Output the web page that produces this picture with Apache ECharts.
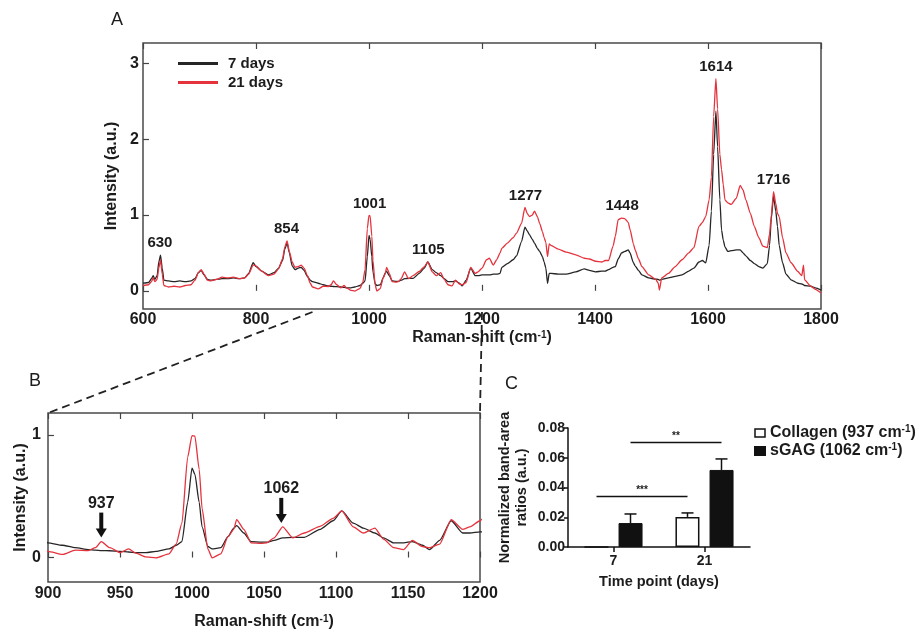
<!DOCTYPE html>
<html>
<head>
<meta charset="utf-8">
<script src="https://cdn.jsdelivr.net/npm/echarts@6/dist/echarts.min.js"></script>
<style>
  html, body { margin: 0; padding: 0; background: #fff; }
  #chart { width: 923px; height: 631px; }
</style>
</head>
<body>
<div id="chart"></div>
<script>
// Raman spectra (mean, normalized) at two culture time points
const ramanShift = [
  600, 610, 615, 618, 621, 625, 628, 631, 634, 637, 645, 655, 665, 675, 685, 692, 698, 703, 708, 714,
  720, 730, 740, 750, 760, 770, 780, 787, 795, 800, 810, 822, 832, 840, 847, 851, 855, 859, 864, 869,
  875, 880, 885, 891, 896, 900, 910, 919, 928, 933, 937, 943, 950, 956, 961, 968, 975, 984, 989, 993,
  997, 1000, 1002, 1005, 1007, 1011, 1014, 1020, 1025, 1029, 1031, 1036, 1041, 1048, 1052, 1057, 1063, 1070, 1078, 1089,
  1098, 1104, 1112, 1119, 1127, 1133, 1140, 1147, 1153, 1160, 1165, 1172, 1180, 1188, 1193, 1200, 1208, 1213, 1220, 1226,
  1232, 1235, 1245, 1255, 1261, 1270, 1276, 1280, 1284, 1289, 1293, 1298, 1302, 1307, 1310, 1313, 1316, 1319, 1322, 1335,
  1349, 1366, 1381, 1390, 1401, 1412, 1418, 1424, 1432, 1436, 1441, 1447, 1453, 1459, 1462, 1468, 1471, 1477, 1483, 1495,
  1507, 1512, 1514, 1518, 1530, 1542, 1554, 1566, 1575, 1584, 1590, 1596, 1602, 1606, 1610, 1614, 1617, 1621, 1624, 1627,
  1630, 1635, 1641, 1650, 1657, 1662, 1667, 1675, 1682, 1690, 1697, 1705, 1709, 1712, 1716, 1720, 1723, 1726, 1732, 1738,
  1747, 1759, 1766, 1769, 1771, 1782, 1790, 1800
];
const intensity7d = [
  0.10, 0.11, 0.16, 0.20, 0.15, 0.20, 0.38, 0.47, 0.30, 0.14, 0.13, 0.12, 0.13, 0.12, 0.13, 0.16, 0.24, 0.27, 0.21, 0.15,
  0.14, 0.15, 0.16, 0.16, 0.17, 0.16, 0.17, 0.23, 0.37, 0.32, 0.26, 0.21, 0.24, 0.30, 0.40, 0.55, 0.63, 0.50, 0.33, 0.28,
  0.30, 0.31, 0.27, 0.19, 0.14, 0.12, 0.10, 0.08, 0.065, 0.06, 0.057, 0.055, 0.05, 0.045, 0.04, 0.04, 0.05, 0.07, 0.10, 0.13,
  0.45, 0.73, 0.68, 0.45, 0.25, 0.09, 0.07, 0.08, 0.17, 0.24, 0.26, 0.20, 0.13, 0.125, 0.125, 0.14, 0.16, 0.165, 0.165, 0.23,
  0.30, 0.38, 0.28, 0.24, 0.20, 0.16, 0.12, 0.12, 0.13, 0.10, 0.065, 0.14, 0.30, 0.20, 0.20, 0.21, 0.21, 0.21, 0.22, 0.22,
  0.23, 0.31, 0.36, 0.41, 0.46, 0.65, 0.84, 0.79, 0.74, 0.68, 0.63, 0.56, 0.52, 0.45, 0.38, 0.30, 0.10, 0.23, 0.23, 0.22,
  0.22, 0.25, 0.29, 0.27, 0.25, 0.26, 0.26, 0.28, 0.31, 0.32, 0.42, 0.50, 0.52, 0.54, 0.50, 0.37, 0.33, 0.27, 0.21, 0.17,
  0.155, 0.15, 0.14, 0.15, 0.17, 0.19, 0.21, 0.26, 0.30, 0.38, 0.40, 0.37, 0.60, 1.05, 1.80, 2.37, 1.90, 1.20, 0.80, 0.67,
  0.58, 0.52, 0.53, 0.54, 0.54, 0.50, 0.46, 0.40, 0.36, 0.32, 0.30, 0.36, 0.60, 0.95, 1.25, 1.05, 0.85, 0.60, 0.37, 0.22,
  0.145, 0.10, 0.09, 0.08, 0.07, 0.06, 0.04, 0.01
];
const intensity21d = [
  0.07, 0.08, 0.12, 0.17, 0.12, 0.15, 0.30, 0.41, 0.22, 0.07, 0.05, 0.06, 0.05, 0.07, 0.08, 0.14, 0.24, 0.28, 0.22, 0.14,
  0.13, 0.15, 0.18, 0.17, 0.18, 0.16, 0.17, 0.22, 0.34, 0.33, 0.26, 0.20, 0.22, 0.29, 0.42, 0.58, 0.66, 0.52, 0.38, 0.31,
  0.32, 0.34, 0.30, 0.20, 0.10, 0.05, 0.025, 0.06, 0.057, 0.08, 0.13, 0.08, 0.04, 0.07, 0.035, 0.005, -0.003, 0.03, 0.11, 0.28,
  0.82, 0.995, 0.99, 0.72, 0.40, 0.07, -0.003, 0.03, 0.17, 0.23, 0.31, 0.23, 0.12, 0.115, 0.12, 0.16, 0.25, 0.16, 0.20, 0.255,
  0.32, 0.38, 0.25, 0.20, 0.24, 0.15, 0.08, 0.065, 0.14, 0.09, 0.08, 0.11, 0.31, 0.23, 0.25, 0.30, 0.41, 0.43, 0.34, 0.41,
  0.50, 0.56, 0.63, 0.70, 0.76, 0.89, 1.10, 1.02, 0.98, 1.00, 1.05, 0.98, 0.89, 0.78, 0.70, 0.64, 0.45, 0.62, 0.60, 0.55,
  0.51, 0.475, 0.43, 0.42, 0.39, 0.38, 0.40, 0.40, 0.59, 0.72, 0.94, 0.96, 0.95, 0.90, 0.81, 0.62, 0.54, 0.42, 0.32, 0.21,
  0.155, 0.10, 0.01, 0.17, 0.23, 0.32, 0.41, 0.50, 0.57, 0.85, 0.90, 0.98, 1.20, 1.50, 2.30, 2.80, 2.40, 1.80, 1.60, 1.40,
  1.20, 1.16, 1.14, 1.22, 1.39, 1.33, 1.20, 1.02, 0.85, 0.70, 0.59, 0.57, 0.75, 1.00, 1.31, 1.15, 1.02, 0.98, 0.70, 0.50,
  0.37, 0.255, 0.20, 0.34, 0.145, 0.06, 0.02, -0.03
];

// Annotated bands
const peaksA = [630, 854, 1001, 1105, 1277, 1448, 1614, 1716];
const peaksB = [937, 1062];

// Tick values of the intensity axes
const yTicksA = [0, 1, 2, 3];
const yTicksB = [0, 1];

// Band-area ratios (mean and SD)
const timePoints = ['7', '21'];
const yTicksC = [0, 0.02, 0.04, 0.06, 0.08];
const collagenMean = [0, 0.0202];
const collagenSd = [0, 0.0027];
const sgagMean = [0.0161, 0.0518];
const sgagSd = [0.0061, 0.0074];
const significance = [
  { group: 'collagen', text: '***' },
  { group: 'sgag', text: '**' }
];

const FONT = 'Liberation Sans, Arial, Helvetica, sans-serif';
const INK = '#1c1c1c';
const BLACK_LINE = '#262626';
const RED_LINE = '#e5333d';
const BAR_W = 24;
const BAR_SHIFT = 17;

const pair = (ys) => ramanShift.map((x, i) => [x, ys[i]]);
function peakValue(w, win) {
  let m = -Infinity;
  ramanShift.forEach((x, i) => {
    if (Math.abs(x - w) <= win) m = Math.max(m, intensity7d[i], intensity21d[i]);
  });
  return m;
}
function redValue(w, win) {
  let m = -Infinity;
  ramanShift.forEach((x, i) => {
    if (Math.abs(x - w) <= win) m = Math.max(m, intensity21d[i]);
  });
  return m;
}

const tickLabel = (size) => ({ fontFamily: FONT, fontWeight: 'bold', fontSize: size, color: INK });
const supRich = (size) => ({
  sup: { fontFamily: FONT, fontWeight: 'bold', fontSize: size, color: INK, verticalAlign: 'top' }
});

const chart = echarts.init(document.getElementById('chart'), null, { renderer: 'canvas' });

const spectrumX = (grid, min, max, interval, gap, margin) => ([
  {
    type: 'value', gridIndex: grid, min, max, interval, position: 'bottom',
    axisLine: { show: false },
    axisTick: { show: true, inside: true, length: 6, lineStyle: { color: '#444', width: 1.2 } },
    splitLine: { show: false },
    axisLabel: Object.assign({ margin, showMinLabel: true, showMaxLabel: true, formatter: (v) => String(v) }, tickLabel(16)),
    name: 'Raman-shift (cm{sup|-1})', nameLocation: 'middle', nameGap: gap,
    nameTextStyle: { fontFamily: FONT, fontWeight: 'bold', fontSize: 16, color: INK, rich: supRich(10) }
  },
  {
    type: 'value', gridIndex: grid, min, max, interval, position: 'top',
    axisLine: { show: false },
    axisTick: { show: true, inside: true, length: 6, lineStyle: { color: '#444', width: 1.2 } },
    axisLabel: { show: false }, splitLine: { show: false }
  }
]);

const spectrumY = (grid, min, max, ticks, gap, margin) => ({
  type: 'value', gridIndex: grid, min, max,
  axisLine: { show: false },
  axisTick: { show: true, inside: true, length: 6, customValues: ticks, lineStyle: { color: '#444', width: 1.2 } },
  axisLabel: Object.assign({ margin, customValues: ticks, formatter: (v) => String(v) }, tickLabel(16)),
  splitLine: { show: false },
  name: 'Intensity (a.u.)', nameLocation: 'middle', nameGap: gap, nameRotate: 90,
  nameTextStyle: { fontFamily: FONT, fontWeight: 'bold', fontSize: 16, color: INK }
});

const lineSeries = (name, ys, color, xi, yi, extra) => Object.assign({
  type: 'line', name, data: pair(ys), xAxisIndex: xi, yAxisIndex: yi,
  showSymbol: false, symbol: 'none', clip: true, animation: false,
  smooth: 0.2, smoothMonotone: 'x',
  lineStyle: { color, width: 1.3 }, itemStyle: { color }
}, extra || {});

const option = {
  backgroundColor: '#fff',
  animation: false,
  grid: [
    { left: 143, top: 43, width: 678, height: 266, show: true, borderColor: '#4a4a4a', borderWidth: 1.5, containLabel: false, outerBoundsMode: 'none' },
    { left: 48, top: 413, width: 432, height: 169, show: true, borderColor: '#4a4a4a', borderWidth: 1.5, containLabel: false, outerBoundsMode: 'none' },
    { left: 568, top: 428, width: 182, height: 119, containLabel: false, outerBoundsMode: 'none' }
  ],
  legend: [
    {
      data: ['7 days', '21 days'], orient: 'vertical', left: 178, top: 55, padding: 0,
      icon: 'rect', itemWidth: 40, itemHeight: 3, itemGap: 2, selectedMode: false,
      textStyle: { fontFamily: FONT, fontWeight: 'bold', fontSize: 15, color: INK, lineHeight: 17, padding: [0, 0, 0, 5] }
    },
    {
      data: [
        { name: 'Collagen (937 cm-1)', itemStyle: { color: '#fff', borderColor: '#111', borderWidth: 1.5 } },
        { name: 'sGAG (1062 cm-1)', itemStyle: { color: '#111' } }
      ],
      orient: 'vertical', left: 754, top: 424, padding: 0, icon: 'rect', itemWidth: 10, itemHeight: 8, itemGap: 0,
      selectedMode: false,
      formatter: (n) => n.replace('cm-1)', 'cm{sup|-1})'),
      textStyle: { fontFamily: FONT, fontWeight: 'bold', fontSize: 16, color: INK, lineHeight: 18, rich: supRich(10) }
    }
  ],
  xAxis: [
    ...spectrumX(0, 600, 1800, 200, 21, 3),
    ...spectrumX(1, 900, 1200, 50, 32, 4),
    {
      type: 'category', gridIndex: 2, data: timePoints, boundaryGap: true,
      axisLine: { show: true, lineStyle: { color: '#111', width: 1.5 } },
      axisTick: { show: true, alignWithLabel: true, length: 5, lineStyle: { color: '#111', width: 1.5 } },
      axisLabel: Object.assign({ margin: 7 }, tickLabel(14)),
      name: 'Time point (days)', nameLocation: 'middle', nameGap: 27,
      nameTextStyle: { fontFamily: FONT, fontWeight: 'bold', fontSize: 14.5, color: INK }
    }
  ],
  yAxis: [
    spectrumY(0, -0.24, 3.27, yTicksA, 19, 4),
    spectrumY(1, -0.2, 1.18, yTicksB, 19, 7),
    {
      type: 'value', gridIndex: 2, min: 0, max: 0.08,
      axisLine: { show: true, lineStyle: { color: '#111', width: 1.5 } },
      axisTick: { show: true, length: 4, customValues: yTicksC, lineStyle: { color: '#111', width: 1.5 } },
      axisLabel: Object.assign({ margin: 3, customValues: yTicksC, formatter: (v) => v.toFixed(2) }, tickLabel(14)),
      splitLine: { show: false },
      name: 'Normalized band-area\nratios (a.u.)', nameLocation: 'middle', nameGap: 38, nameRotate: 90,
      nameTextStyle: { fontFamily: FONT, fontWeight: 'bold', fontSize: 14.5, color: INK, lineHeight: 17 }
    }
  ],
  series: [
    lineSeries('7 days', intensity7d, BLACK_LINE, 0, 0),
    lineSeries('21 days', intensity21d, RED_LINE, 0, 0, {
      markPoint: {
        symbol: 'circle', symbolSize: 1, itemStyle: { color: 'rgba(0,0,0,0)' }, silent: true,
        label: { show: true, position: 'top', distance: 4, formatter: '{c}', fontFamily: FONT, fontWeight: 'bold', fontSize: 15, color: INK },
        data: peaksA.map((w) => ({ coord: [w, peakValue(w, 4)], value: w }))
      }
    }),
    lineSeries('7 days', intensity7d, BLACK_LINE, 2, 1),
    lineSeries('21 days', intensity21d, RED_LINE, 2, 1),
    {
      // band markers (downward arrows) in the zoomed spectrum
      type: 'custom', xAxisIndex: 2, yAxisIndex: 1, silent: true, clip: false,
      encode: { x: 0, y: 1 },
      data: peaksB.map((w) => [w, redValue(w, 3)]),
      renderItem: (params, api) => {
        const p = api.coord([api.value(0), api.value(1)]);
        const tip = p[1] - 4;
        const top = tip - 25;
        return {
          type: 'group',
          children: [
            { type: 'rect', shape: { x: p[0] - 2, y: top, width: 4, height: 17 }, style: { fill: '#111' } },
            { type: 'polygon', shape: { points: [[p[0] - 5.5, top + 16], [p[0] + 5.5, top + 16], [p[0], tip]] }, style: { fill: '#111' } },
            { type: 'text', style: { text: String(api.value(0)), x: p[0], y: top - 1, align: 'center', verticalAlign: 'bottom', font: 'bold 16px ' + FONT, fill: INK } }
          ]
        };
      }
    },
    {
      type: 'bar', name: 'Collagen (937 cm-1)', xAxisIndex: 4, yAxisIndex: 2,
      data: collagenMean, barWidth: BAR_W, barGap: '42%',
      itemStyle: { color: '#fff', borderColor: '#111', borderWidth: 1.5 }
    },
    {
      type: 'bar', name: 'sGAG (1062 cm-1)', xAxisIndex: 4, yAxisIndex: 2,
      data: sgagMean, barWidth: BAR_W, barGap: '42%',
      itemStyle: { color: '#111', borderColor: '#111', borderWidth: 1 }
    },
    {
      // upper error bars (SD)
      type: 'custom', xAxisIndex: 4, yAxisIndex: 2, silent: true, clip: false,
      encode: { x: 0, y: 1 },
      data: [
        ...collagenMean.map((m, i) => [i, m, collagenSd[i], -1]),
        ...sgagMean.map((m, i) => [i, m, sgagSd[i], 1])
      ],
      renderItem: (params, api) => {
        const sd = api.value(2);
        if (!sd) return null;
        const base = api.coord([api.value(0), api.value(1)]);
        const top = api.coord([api.value(0), api.value(1) + sd]);
        const x = base[0] + api.value(3) * BAR_SHIFT;
        const st = { stroke: '#111', lineWidth: 1.5 };
        return {
          type: 'group',
          children: [
            { type: 'line', shape: { x1: x, y1: base[1], x2: x, y2: top[1] }, style: st },
            { type: 'line', shape: { x1: x - 6, y1: top[1], x2: x + 6, y2: top[1] }, style: st }
          ]
        };
      }
    },
    {
      // significance brackets between time points
      type: 'custom', xAxisIndex: 4, yAxisIndex: 2, silent: true, clip: false,
      encode: { x: 0, y: 1 },
      data: significance.map((s) => {
        const mean = s.group === 'collagen' ? collagenMean : sgagMean;
        const sd = s.group === 'collagen' ? collagenSd : sgagSd;
        const level = Math.max(mean[0] + sd[0], mean[1] + sd[1]) + 0.011;
        return [0, level, 1, s.group === 'collagen' ? -1 : 1];
      }),
      renderItem: (params, api) => {
        const a = api.coord([api.value(0), api.value(1)]);
        const b = api.coord([api.value(2), api.value(1)]);
        const side = api.value(3) * BAR_SHIFT;
        const x1 = a[0] + side, x2 = b[0] + side;
        return {
          type: 'group',
          children: [
            { type: 'line', shape: { x1, y1: a[1], x2, y2: a[1] }, style: { stroke: '#111', lineWidth: 1.5 } },
            { type: 'text', style: { text: significance[params.dataIndex].text, x: (x1 + x2) / 2, y: a[1] - 1, align: 'center', verticalAlign: 'bottom', font: 'bold 10px ' + FONT, fill: INK } }
          ]
        };
      }
    }
  ]
};

chart.setOption(option);

// Dashed guides from the 900–1200 cm-1 range of panel A to the zoomed panel B
const a0 = chart.convertToPixel({ xAxisIndex: 0, yAxisIndex: 0 }, [900, -0.24]);
const a1 = chart.convertToPixel({ xAxisIndex: 0, yAxisIndex: 0 }, [1200, -0.24]);
const b0 = chart.convertToPixel({ xAxisIndex: 2, yAxisIndex: 1 }, [900, 1.18]);
const b1 = chart.convertToPixel({ xAxisIndex: 2, yAxisIndex: 1 }, [1200, 1.18]);
const dash = { stroke: '#222', lineWidth: 1.8, lineDash: [8, 5] };
const letter = (t, x, y) => ({ type: 'text', left: x, top: y, style: { text: t, font: '18px ' + FONT, fill: INK } });

chart.setOption({
  graphic: [
    { type: 'line', shape: { x1: a0[0], y1: a0[1] + 3, x2: b0[0], y2: b0[1] }, style: dash, z: 0 },
    { type: 'line', shape: { x1: a1[0], y1: a1[1] + 3, x2: b1[0], y2: b1[1] }, style: dash, z: 0 },
    letter('A', 111, 11),
    letter('B', 29, 372),
    letter('C', 505, 375)
  ]
});
</script>
</body>
</html>
